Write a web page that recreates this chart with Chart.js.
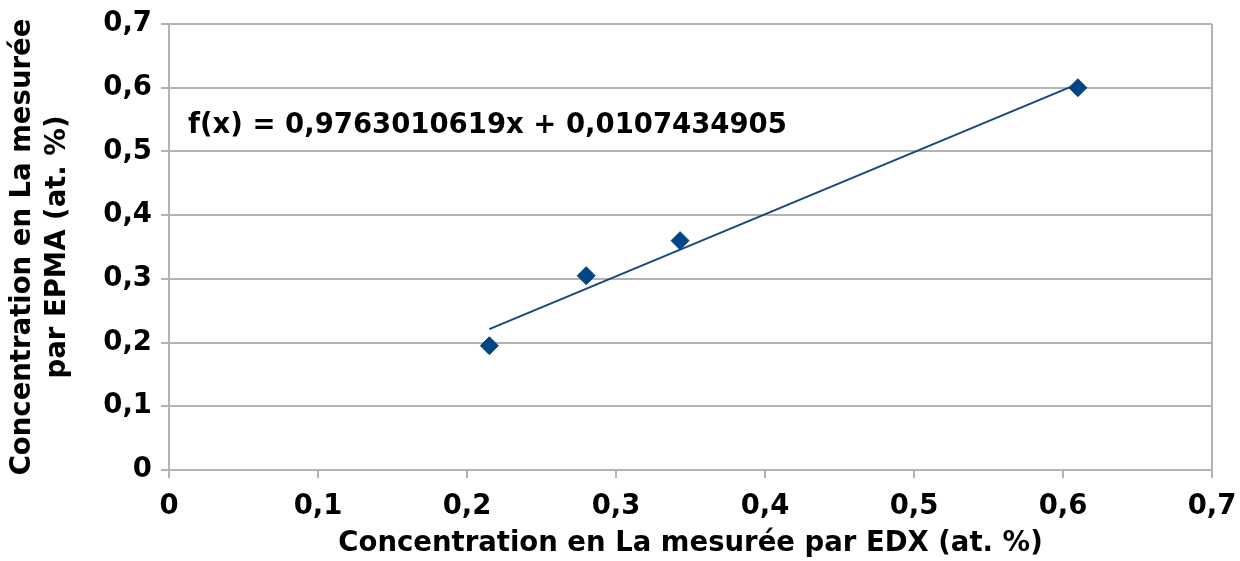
<!DOCTYPE html>
<html>
<head>
<meta charset="utf-8">
<script src="https://cdn.jsdelivr.net/npm/chart.js@4"></script>
<style>
  html, body { margin: 0; padding: 0; background: #fff; }
  #wrap { width: 1240px; height: 561px; }
</style>
</head>
<body>
<div id="wrap"><canvas id="chart" width="1240" height="561"></canvas></div>
<script>
const edxValues = [0.215, 0.28, 0.343, 0.61];
const epmaValues = [0.195, 0.305, 0.36, 0.6];

// Droite de tendance (extrémités)
const trendX = [0.215, 0.61];
const trendY = [0.221, 0.606];
const trendLabel = "f(x) = 0,9763010619x + 0,0107434905";

const axisTicks = [0, 0.1, 0.2, 0.3, 0.4, 0.5, 0.6, 0.7];
const xTitle = "Concentration en La mesurée par EDX (at. %)";
const yTitle = ["Concentration en La mesurée", "par EPMA (at. %)"];

const fontFamily = "'DejaVu Sans', sans-serif";
const fontSize = 27.5;
const gridColor = '#b3b3b3';

const fmt = v => String(Math.round(v * 10) / 10).replace('.', ',');

// Texte de l'équation
const formulaPlugin = {
    id: 'formula',
    afterDatasetsDraw(chart) {
        const { ctx, scales } = chart;
        ctx.save();
        ctx.font = "bold " + fontSize + "px " + fontFamily;
        ctx.fillStyle = '#000';
        ctx.textBaseline = 'middle';
        ctx.textAlign = 'left';
        ctx.fillText(trendLabel, scales.x.getPixelForValue(0.0128), scales.y.getPixelForValue(0.54));
        ctx.restore();
    }
};

const points = edxValues.map((x, i) => ({ x: x, y: epmaValues[i] }));
const trend = trendX.map((x, i) => ({ x: x, y: trendY[i] }));

new Chart(document.getElementById('chart'), {
    type: 'scatter',
    data: {
        datasets: [{
            data: points,
            pointStyle: 'rectRot',
            pointRadius: 9,
            pointBackgroundColor: '#004586',
            pointBorderColor: '#004586',
            pointBorderWidth: 1,
            order: 1
        }, {
            type: 'line',
            data: trend,
            borderColor: '#17467f',
            borderWidth: 2,
            pointRadius: 0,
            fill: false,
            order: 2
        }]
    },
    options: {
        responsive: false,
        animation: false,
        layout: { padding: { top: 24, right: 28, left: 0, bottom: 0 } },
        plugins: { legend: { display: false }, tooltip: { enabled: false } },
        scales: {
            x: {
                type: 'linear',
                min: 0,
                max: 0.7,
                afterBuildTicks: s => { s.ticks = axisTicks.map(v => ({ value: v })); },
                afterFit: s => { s.height = 91; s.paddingLeft = 0; s.paddingRight = 0; },
                ticks: {
                    callback: v => fmt(v),
                    color: '#000',
                    padding: 12,
                    maxRotation: 0,
                    font: { family: fontFamily, size: fontSize, weight: 'bold' }
                },
                grid: {
                    color: c => (c.index === 0 || c.index === axisTicks.length - 1) ? gridColor : 'rgba(0,0,0,0)',
                    tickColor: gridColor,
                    lineWidth: 2,
                    tickLength: 8
                },
                border: { color: gridColor, width: 2 },
                title: {
                    display: true,
                    text: xTitle,
                    color: '#000',
                    padding: { top: 0, bottom: 1 },
                    font: { family: fontFamily, size: fontSize, weight: 'bold' }
                }
            },
            y: {
                type: 'linear',
                min: 0,
                max: 0.7,
                afterBuildTicks: s => { s.ticks = axisTicks.map(v => ({ value: v })); },
                afterFit: s => { s.width = 169; s.paddingTop = 0; s.paddingBottom = 0; },
                ticks: {
                    callback: v => fmt(v),
                    color: '#000',
                    padding: 9,
                    font: { family: fontFamily, size: fontSize, weight: 'bold' }
                },
                grid: {
                    color: gridColor,
                    tickColor: gridColor,
                    lineWidth: 2,
                    tickLength: 8
                },
                border: { color: gridColor, width: 2 },
                title: {
                    display: true,
                    text: yTitle,
                    color: '#000',
                    padding: { top: 5, bottom: 0 },
                    font: { family: fontFamily, size: fontSize, weight: 'bold', lineHeight: 1.27 }
                }
            }
        }
    },
    plugins: [formulaPlugin]
});
</script>
</body>
</html>
